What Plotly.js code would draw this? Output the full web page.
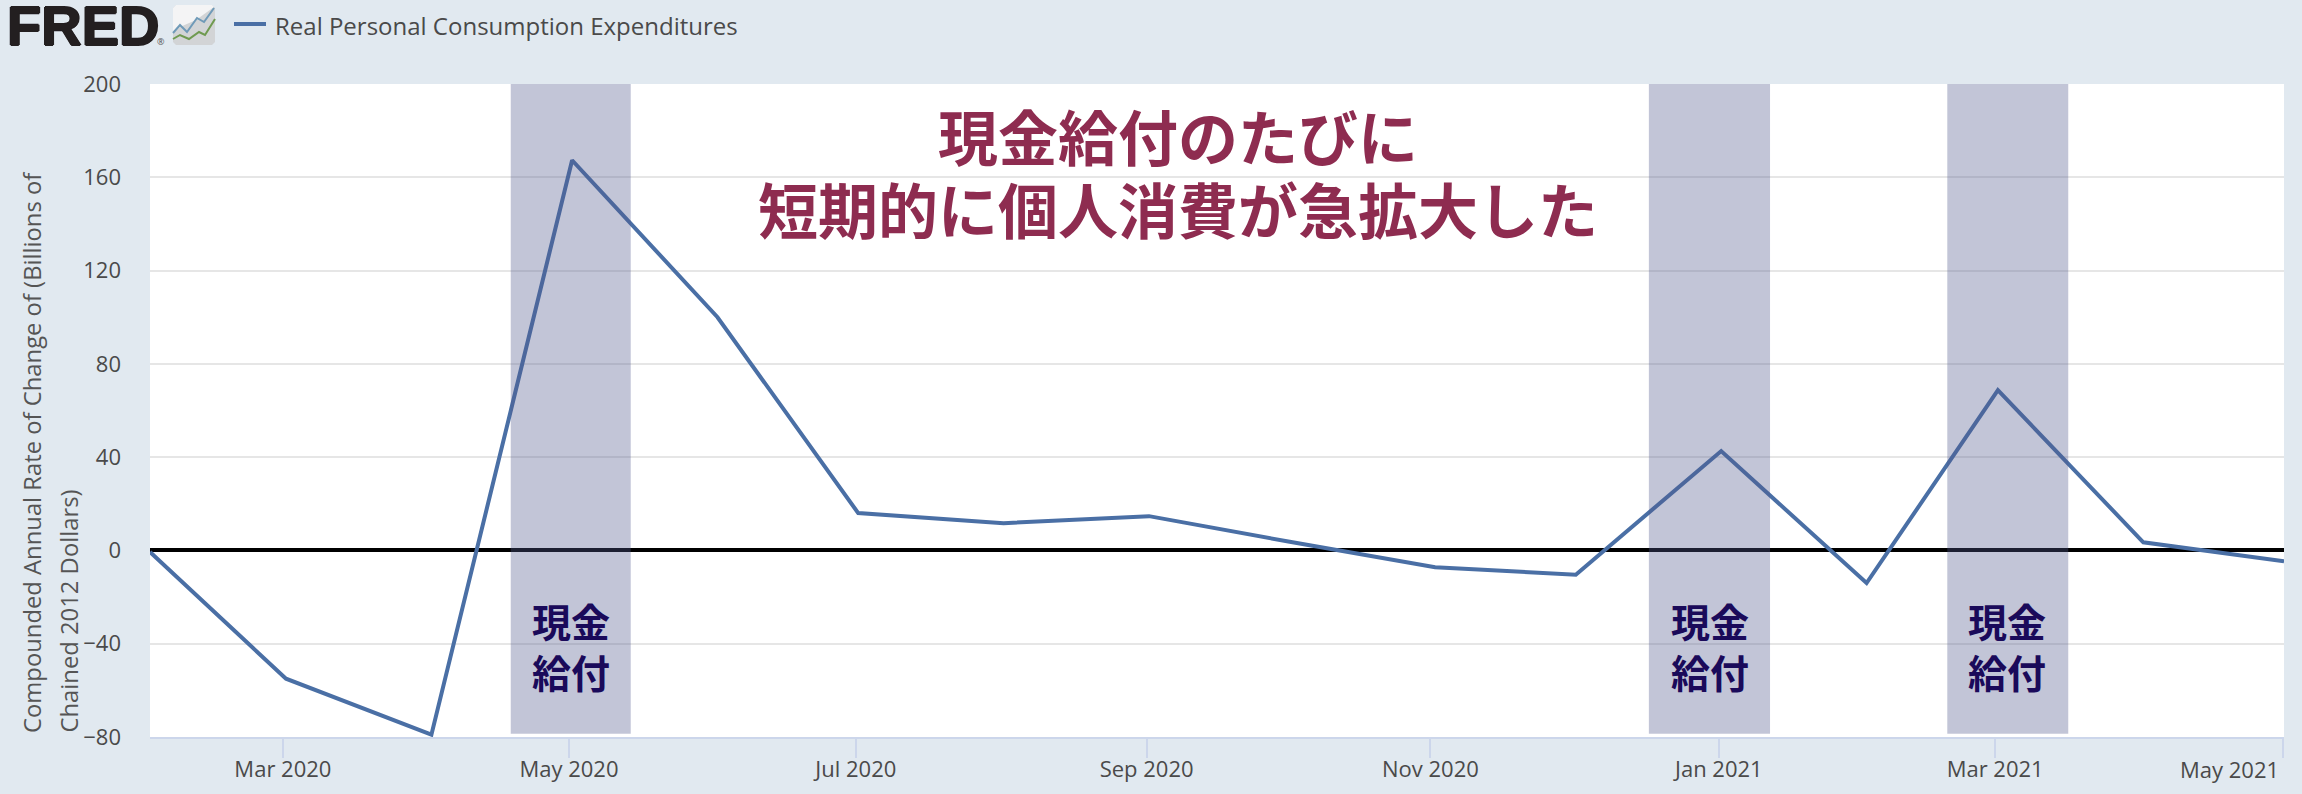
<!DOCTYPE html>
<html><head><meta charset="utf-8">
<script src="https://cdn.plot.ly/plotly-3.0.1.min.js"></script>
<style>html,body{margin:0;padding:0;background:#e1e9f0;overflow:hidden}#c{width:2302px;height:794px}</style>
</head><body><div id="c"></div>
<script>
const dates = ["2020-02-01","2020-03-01","2020-04-01","2020-05-01","2020-06-01","2020-07-01","2020-08-01","2020-09-01","2020-10-01","2020-11-01","2020-12-01","2021-01-01","2021-02-01","2021-03-01","2021-04-01","2021-05-01"];
const values = [-0.7,-55,-79,167.3,100,16,11.7,14.7,3.7,-7.2,-10.4,42.6,-14,68.7,3.5,-4.7];
const seriesName = "Real Personal Consumption Expenditures";
const tickDates = ["2020-02-29T08:00","2020-04-30T08:00","2020-06-30T12:00","2020-08-31T12:00","2020-10-31T00:00","2020-12-31T12:00","2021-02-28T10:00","2021-04-30T18:00"];
const tickLabels = ["Mar 2020","May 2020","Jul 2020","Sep 2020","Nov 2020","Jan 2021","Mar 2021",""];
const lastTickLabel = "May 2021";
const yTicks = [-80,-40,0,40,80,120,160,200];
const bandStarts = ["2020-04-17T22:00","2020-12-16T14:00","2021-02-18T05:00"];
const bandEnds = ["2020-05-13T12:00","2021-01-11T10:00","2021-03-16T00:00"];
const bandLabel = "現金<br>給付";
const headlineLines = ["現金給付のたびに","短期的に個人消費が急拡大した"];
const yTitleLines = ["Compounded Annual Rate of Change of (Billions of","Chained 2012 Dollars)"];

const L=150,R=2284,T=84,B=737;
const px=x=>(x-L)/(R-L), py=y=>(B-y)/(B-T);
const base={xref:'paper',yref:'paper',showarrow:false};
const FONT='"Open Sans", sans-serif', CJK='"Noto Sans CJK JP", sans-serif';
const ann=[];
headlineLines.forEach((t,i)=>ann.push({...base,text:t,x:px(1178),y:py([135,207][i]),xanchor:'center',yanchor:'middle',
  font:{family:CJK,size:60,color:'#8e2c50',weight:700}}));
[571,1710,2007].forEach(cx=>ann.push({...base,text:bandLabel,x:px(cx),y:py(645),xanchor:'center',yanchor:'middle',
  font:{family:CJK,size:39,color:'#1a0a5a',weight:700}}));
yTitleLines.forEach((t,i)=>ann.push({...base,text:t,x:px([32,68][i]),y:py(735),textangle:-90,xanchor:'center',yanchor:'bottom',
  font:{family:FONT,size:23.8,color:'#555555'}}));
ann.push({...base,text:lastTickLabel,x:px(2281),y:py(769),xanchor:'right',yanchor:'middle',font:{family:FONT,size:22,color:'#4a4a4a'}});
ann.push({...base,text:seriesName,x:px(273),y:py(25),xanchor:'left',yanchor:'middle',font:{family:FONT,size:24,color:'#4a4a4a'}});
ann.push({...base,text:'FRED',x:px(5),y:py(25),xanchor:'left',yanchor:'middle',font:{family:'"Liberation Sans", sans-serif',size:56,color:'#231f20',weight:700,shadow:'1px 0 0 #231f20, -1px 0 0 #231f20, 0 1px 0 #231f20, 0 -1px 0 #231f20'}});
ann.push({...base,text:'®',x:px(161),y:py(42),xanchor:'center',yanchor:'middle',font:{family:FONT,size:9,color:'#555555'}});

const P=(pts,close)=>'M'+pts.map(p=>px(p[0])+','+py(p[1])).join('L')+(close?'Z':'');
const sh=[];
bandStarts.forEach((s,i)=>sh.push({type:'rect',xref:'x',yref:'y',x0:s,x1:bandEnds[i],y0:-78.6,y1:200,layer:'above',line:{width:0},fillcolor:'rgba(80,88,140,0.35)'}));
const ps={type:'path',xref:'paper',yref:'paper',layer:'above'};
sh.push({...ps,path:P([[234,24],[266,24]]),line:{color:'#4a6fa5',width:4}});
sh.push({...ps,path:P([[173,8],[176,5],[212,5],[215,8],[215,42],[212,45],[176,45],[173,42]],true),fillcolor:'#d2d4d6',line:{width:0}});
sh.push({...ps,path:P([[173,8],[176,5],[212,5],[214,7],[196,20],[180,27],[173,33]],true),fillcolor:'rgba(255,255,255,0.75)',line:{width:0}});
sh.push({...ps,path:P([[173,33],[180,25],[187,32],[197,18],[204,22],[214,8]]),line:{color:'#6f9ab8',width:2}});
sh.push({...ps,path:P([[173,39],[180,35],[189,39],[199,32],[205,35],[215,19]]),line:{color:'#6f9a50',width:2}});

Plotly.newPlot('c',[{x:dates,y:values,type:'scatter',mode:'lines',name:seriesName,line:{color:'#4a6fa5',width:4,shape:'linear'},hoverinfo:'x+y'}],{
  width:2302,height:794,
  paper_bgcolor:'#e1e9f0',plot_bgcolor:'#ffffff',
  margin:{l:L,r:2302-R,t:T,b:794-B,pad:0},
  font:{family:FONT,color:'#4a4a4a'},
  showlegend:false,
  xaxis:{type:'date',range:["2020-02-01","2021-05-01"],tickmode:'array',tickvals:tickDates,ticktext:tickLabels,ticks:'outside',ticklen:19,tickwidth:1.5,tickcolor:'#ccd6eb',ticklabelstandoff:-7,
    showgrid:false,zeroline:false,showline:true,linecolor:'#ccd6eb',linewidth:2,tickfont:{family:FONT,size:22,color:'#4a4a4a'}},
  yaxis:{range:[-80,200],tickmode:'array',tickvals:yTicks,ticks:'',ticklen:0,ticklabelstandoff:28,gridcolor:'#e6e6e6',gridwidth:1.5,
    zeroline:true,zerolinecolor:'#000000',zerolinewidth:4,showline:false,tickfont:{family:FONT,size:22,color:'#4a4a4a'}},
  annotations:ann,shapes:sh
},{displayModeBar:false});
</script></body></html>
